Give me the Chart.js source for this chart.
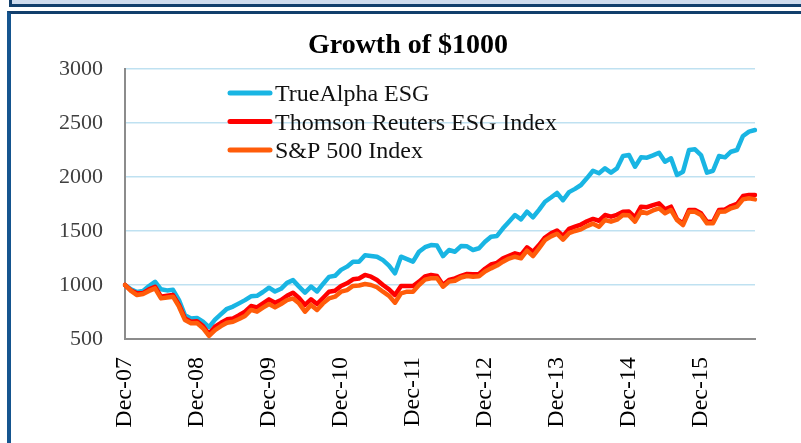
<!DOCTYPE html>
<html><head><meta charset="utf-8">
<script src="https://cdn.jsdelivr.net/npm/chart.js@4"></script>
<style>
html,body{margin:0;padding:0;background:#fff;width:801px;height:443px;overflow:hidden;}
#strip{position:absolute;left:9px;top:0;width:792px;height:4px;background:#cfdcee;border-left:3px solid #123f6c;border-bottom:3px solid #123f6c;}
#box{position:absolute;left:7px;top:11px;width:800px;height:440px;border-left:4px solid #15558f;border-top:3px solid #123f6c;}
canvas{position:absolute;left:0;top:0;}
</style></head>
<body>
<div id="strip"></div>
<div id="box"></div>
<canvas id="c" width="801" height="443"></canvas>
<script>
const titleText = 'Growth of $1000';
const seriesNames = ['TrueAlpha ESG', 'Thomson Reuters ESG Index', 'S&P 500 Index'];
const seriesColors = ['#19b5e3', '#ff0000', '#ff5c0a'];
const monthNames = ['Jan','Feb','Mar','Apr','May','Jun','Jul','Aug','Sep','Oct','Nov','Dec'];
const startYear = 2007, startMonth = 11, monthCount = 106; // Dec-07 .. Sep-16
const yTicks = [500, 1000, 1500, 2000, 2500, 3000];

const trueAlpha = [
  1000,960,935,945,990,1030,960,950,955,860,
  720,690,695,660,610,680,730,780,800,830,
  860,895,900,935,975,940,965,1020,1045,985,
  930,985,940,1010,1075,1085,1140,1170,1215,1215,
  1275,1268,1262,1230,1180,1108,1262,1240,1216,1308,
  1350,1370,1365,1268,1324,1308,1361,1358,1324,
  1340,1400,1447,1454,1525,1586,1648,1608,1679,1627,1695,
  1771,1810,1852,1785,1860,1890,1926,1990,2058,2035,
  2080,2040,2080,2194,2203,2095,2182,2179,2200,2225,
  2142,2173,2019,2049,2250,2256,2203,2040,2058,2194,
  2182,2234,2250,2380,2420,2435
];
const thomsonESG = [
  1000,950,923,925,960,984,892,900,907,815,
  690,660,665,620,546,614,650,682,691,720,
  753,805,793,830,867,836,861,900,929,880,
  815,867,824,880,938,947,991,1016,1053,1060,
  1093,1077,1046,1000,960,907,991,991,991,1031,
  1080,1093,1083,1000,1046,1062,1085,1102,1100,
  1102,1150,1190,1205,1247,1270,1293,1278,1349,1308,1370,
  1440,1479,1505,1455,1520,1540,1560,1590,1612,1595,
  1648,1633,1650,1679,1680,1627,1725,1720,1740,1756,
  1701,1725,1608,1571,1694,1694,1664,1586,1586,1694,
  1700,1731,1750,1824,1833,1833
];
const sp500 = [
  1000,945,907,917,945,969,876,885,892,799,
  675,645,648,600,528,583,620,651,660,685,
  713,769,753,790,824,793,824,860,876,830,
  753,815,769,830,876,892,938,953,991,995,
  1009,1000,979,938,900,836,923,938,938,1000,
  1050,1062,1062,984,1031,1040,1070,1083,1077,
  1080,1125,1154,1180,1216,1245,1262,1247,1318,1268,1340,
  1415,1450,1475,1420,1480,1500,1515,1545,1568,1540,
  1602,1586,1605,1648,1645,1586,1679,1664,1690,1710,
  1664,1694,1602,1555,1679,1679,1648,1571,1571,1679,
  1680,1710,1725,1793,1803,1793
];

const labels = [];
for (let i = 0; i < monthCount; i++) {
  const m = (startMonth + i) % 12;
  const y = startYear + Math.floor((startMonth + i) / 12);
  labels.push(monthNames[m] + '-' + String(y % 100).padStart(2, '0'));
}

const serif = '"Liberation Serif", "Times New Roman", serif';

const frameText = {
  id: 'frameText',
  afterDraw(chart) {
    const ctx = chart.ctx;
    ctx.save();
    ctx.fillStyle = '#000';
    ctx.font = 'bold 28px ' + serif;
    ctx.textAlign = 'center';
    ctx.textBaseline = 'alphabetic';
    ctx.fillText(titleText, 408, 53);
    ctx.font = '24px ' + serif;
    ctx.textAlign = 'left';
    seriesNames.forEach((name, k) => {
      const y = 93 + k * 28.5;
      ctx.strokeStyle = seriesColors[k];
      ctx.lineWidth = 5;
      ctx.lineCap = 'round';
      ctx.beginPath(); ctx.moveTo(230, y); ctx.lineTo(270, y); ctx.stroke();
      ctx.fillStyle = '#111';
      ctx.fillText(name, 275, y + 8);
    });
    ctx.restore();
  }
};

const series = [trueAlpha, thomsonESG, sp500];
new Chart(document.getElementById('c'), {
  type: 'line',
  data: {
    labels: labels,
    datasets: series.map((d, k) => ({
      label: seriesNames[k],
      data: d,
      borderColor: seriesColors[k],
      backgroundColor: seriesColors[k],
      borderWidth: 4.5,
      pointRadius: 0,
      tension: 0,
      borderJoinStyle: 'round',
      borderCapStyle: 'round',
      order: 3 - k
    }))
  },
  options: {
    responsive: false,
    animation: false,
    layout: { padding: { left: 0, right: 46, top: 69, bottom: 0 } },
    plugins: { legend: { display: false }, title: { display: false }, tooltip: { enabled: false } },
    scales: {
      x: {
        type: 'category',
        offset: false,
        grid: { display: false },
        border: { display: true, color: '#8c8c8c', width: 2 },
        ticks: {
          autoSkip: false,
          maxRotation: 90,
          minRotation: 90,
          padding: 10,
          color: '#000',
          font: { family: serif, size: 24 },
          callback: function(v, i) { const l = labels[i]; return l.startsWith('Dec') ? l : ''; }
        },
        afterFit(s) { s.height = 104; }
      },
      y: {
        min: 500, max: 3000,
        afterBuildTicks(s) { s.ticks = yTicks.map(v => ({ value: v })); },
        grid: { color: '#bfe1f1', lineWidth: 1.5, drawTicks: false },
        border: { display: true, color: '#8c8c8c', width: 2 },
        ticks: {
          padding: 22,
          color: '#404040',
          font: { family: serif, size: 22 },
          callback: function(v) { return String(v); }
        },
        afterFit(s) { s.width = 125; }
      }
    }
  },
  plugins: [frameText]
});
</script>
</body></html>
